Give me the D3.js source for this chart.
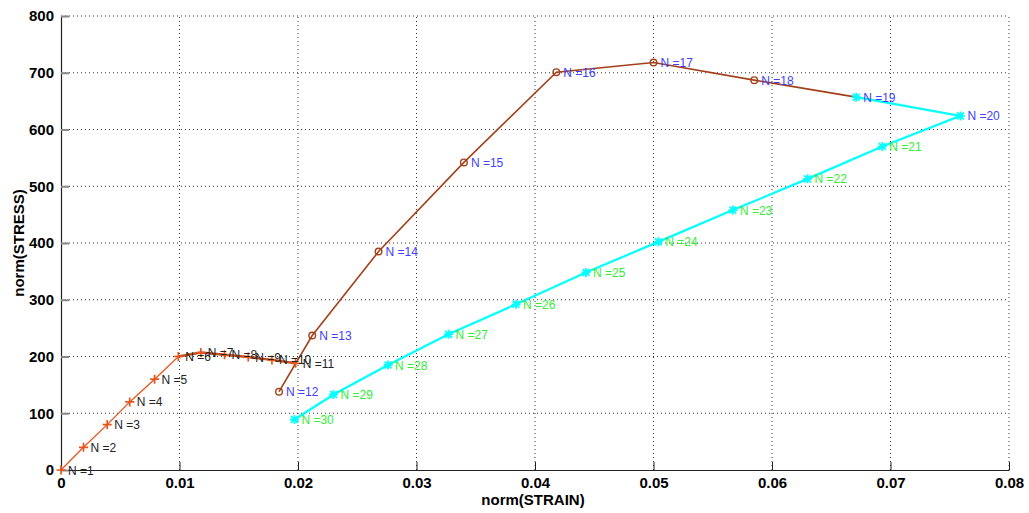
<!DOCTYPE html>
<html>
<head>
<meta charset="utf-8">
<script src="https://cdn.jsdelivr.net/npm/d3@7"></script>
<style>
  html, body { margin: 0; padding: 0; background: #fff; }
  svg { display: block; }
  text { font-family: "Liberation Sans", Arial, Helvetica, sans-serif; }
</style>
</head>
<body>
<svg id="chart" width="1029" height="513"></svg>
<script>
// Load step number N = 1..30
const steps = d3.range(1, 31);
// norm(STRAIN) at each step
const strain = [
  0.0000, 0.0019, 0.0039, 0.0058, 0.0079, 0.0099, 0.0118, 0.0138, 0.0158, 0.0178,
  0.0198, 0.0184, 0.0212, 0.0268, 0.0340, 0.0418, 0.0500, 0.0585, 0.0671, 0.0759,
  0.0693, 0.0630, 0.0567, 0.0504, 0.0443, 0.0384, 0.0327, 0.0276, 0.0230, 0.0197
];
// norm(STRESS) at each step
const stress = [
    0,  40,  80, 120, 160, 200, 207, 203, 199, 194,
  188, 138, 237, 385, 542, 701, 718, 687, 657, 624,
  570, 513, 458, 402, 348, 292, 239, 185, 133,  89
];
// Tick values
const xTicks = [0, 0.01, 0.02, 0.03, 0.04, 0.05, 0.06, 0.07, 0.08];
const xTickLabels = ["0", "0.01", "0.02", "0.03", "0.04", "0.05", "0.06", "0.07", "0.08"];
const yTicks = [0, 100, 200, 300, 400, 500, 600, 700, 800];

const points = steps.map((n, i) => ({ n, x: strain[i], y: stress[i] }));

const svg = d3.select("#chart");
const plotLeft = 61, plotRight = 1009, plotTop = 16, plotBottom = 470;

const x = d3.scaleLinear().domain([0, 0.08]).range([plotLeft, plotRight]);
const y = d3.scaleLinear().domain([0, 800]).range([plotBottom, plotTop]);

// dotted grid
const grid = svg.append("g");
grid.selectAll("line.gx").data(xTicks.slice(1)).join("line")
  .attr("x1", d => x(d)).attr("x2", d => x(d))
  .attr("y1", plotBottom).attr("y2", plotTop)
  .attr("stroke", "#333").attr("stroke-width", 1)
  .attr("stroke-dasharray", "1,3");
grid.selectAll("line.gy").data(yTicks.slice(1)).join("line")
  .attr("x1", plotLeft).attr("x2", plotRight)
  .attr("y1", d => y(d)).attr("y2", d => y(d))
  .attr("stroke", "#333").attr("stroke-width", 1)
  .attr("stroke-dasharray", "1,3");

// axes with inward ticks
const xAxis = d3.axisBottom(x).tickValues(xTicks)
  .tickFormat((d, i) => xTickLabels[i]).tickSizeInner(-8).tickSizeOuter(0).tickPadding(7);
const yAxis = d3.axisLeft(y).tickValues(yTicks)
  .tickSizeInner(-8).tickSizeOuter(0).tickPadding(7);

const gx = svg.append("g").attr("transform", `translate(0,${plotBottom})`).call(xAxis);
const gy = svg.append("g").attr("transform", `translate(${plotLeft},0)`).call(yAxis);
[gx, gy].forEach(g => {
  g.select(".domain").attr("stroke", "#222").attr("stroke-width", 1.2);
  g.selectAll(".tick line").attr("stroke", "#222");
  g.selectAll(".tick text")
    .attr("fill", "#000").style("font-size", "15px").style("font-weight", "bold");
});
gy.selectAll(".tick line").attr("stroke", "#888").attr("stroke-width", 2);

svg.append("text")
  .attr("x", 533).attr("y", 505)
  .attr("text-anchor", "middle")
  .style("font-size", "15px").style("font-weight", "bold")
  .text("norm(STRAIN)");
svg.append("text")
  .attr("transform", `translate(24,${(plotTop + plotBottom) / 2}) rotate(-90)`)
  .attr("text-anchor", "middle")
  .style("font-size", "15px").style("font-weight", "bold")
  .text("norm(STRESS)");

const line = d3.line().x(d => x(d.x)).y(d => y(d.y));
const plot = svg.append("g");

// loading branch, steps 1-11
const seg1 = points.slice(0, 11);
const seg1b = points.slice(5, 11);
// second branch, steps 11-19
const seg2 = points.slice(10, 19);
// unloading branch, steps 19-30
const seg3 = points.slice(18, 30);

const orange = "#e4561e", brown = "#a3401a", cyan = "#00ffff";

plot.append("path").datum(seg1).attr("d", line)
  .attr("fill", "none").attr("stroke", orange).attr("stroke-width", 1.3);
plot.append("path").datum(seg1b).attr("d", line)
  .attr("fill", "none").attr("stroke", "#c84d1a").attr("stroke-width", 2.4);
plot.append("path").datum(seg2).attr("d", line)
  .attr("fill", "none").attr("stroke", brown).attr("stroke-width", 1.6);
plot.append("path").datum(seg3).attr("d", line)
  .attr("fill", "none").attr("stroke", cyan).attr("stroke-width", 2.2);

// markers
plot.selectAll("path.plus").data(seg1).join("path")
  .attr("d", d => { const cx = x(d.x), cy = y(d.y), s = 4.5;
    return `M${cx - s},${cy}H${cx + s}M${cx},${cy - s}V${cy + s}`; })
  .attr("stroke", orange).attr("stroke-width", 1.7);
plot.selectAll("circle.ring").data(points.slice(11, 18)).join("circle")
  .attr("cx", d => x(d.x)).attr("cy", d => y(d.y)).attr("r", 3.3)
  .attr("fill", "none").attr("stroke", brown).attr("stroke-width", 1.4);
plot.selectAll("path.star").data(seg3).join("path")
  .attr("d", d => { const cx = x(d.x), cy = y(d.y), s = 4.5, t = 3.4;
    return `M${cx - s},${cy}H${cx + s}M${cx},${cy - s}V${cy + s}` +
           `M${cx - t},${cy - t}L${cx + t},${cy + t}M${cx - t},${cy + t}L${cx + t},${cy - t}`; })
  .attr("stroke", cyan).attr("stroke-width", 1.8);

// step labels
const labelColor = n => n <= 11 ? "#222" : (n <= 20 ? "#4040ff" : "#33ee33");
plot.selectAll("text.lbl").data(points).join("text")
  .attr("x", d => x(d.x) + 7).attr("y", d => y(d.y) + 4.5)
  .attr("fill", d => labelColor(d.n))
  .style("font-size", "12px")
  .text(d => "N =" + d.n);
</script>
</body>
</html>
